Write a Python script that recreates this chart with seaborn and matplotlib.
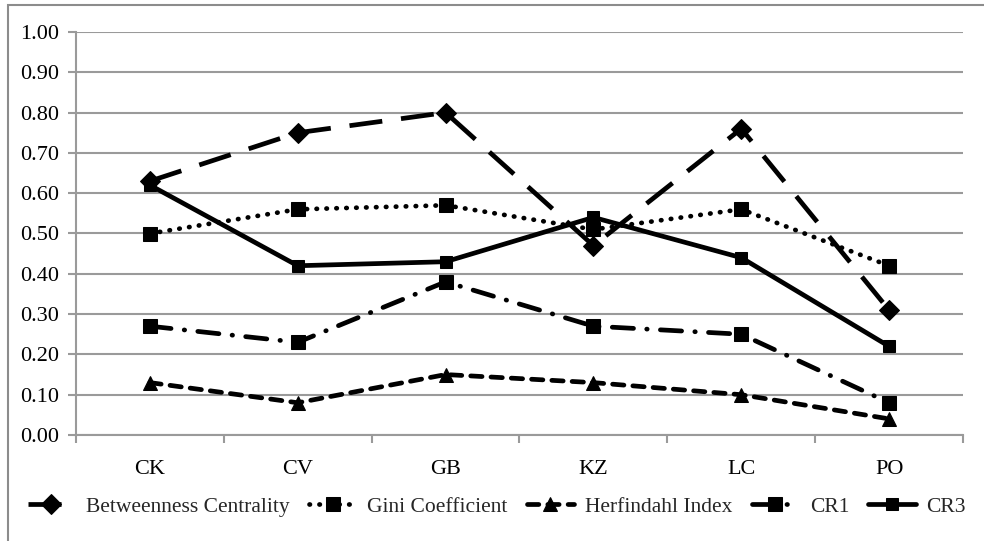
import matplotlib
matplotlib.use("Agg")
import matplotlib.pyplot as plt
import matplotlib.patches as mpatches
import seaborn as sns
import pandas as pd
from matplotlib.ticker import FixedLocator, MultipleLocator

# Country / category codes on the x axis
categories = ["CK", "CV", "GB", "KZ", "LC", "PO"]

# Concentration measures per category
betweenness = [0.63, 0.75, 0.80, 0.47, 0.76, 0.31]
gini = [0.50, 0.56, 0.57, 0.51, 0.56, 0.42]
herfindahl = [0.13, 0.08, 0.15, 0.13, 0.10, 0.04]
cr1 = [0.27, 0.23, 0.38, 0.27, 0.25, 0.08]
cr3 = [0.62, 0.42, 0.43, 0.54, 0.44, 0.22]

series_names = ["Betweenness Centrality", "Gini Coefficient", "Herfindahl Index", "CR1", "CR3"]
series_values = [betweenness, gini, herfindahl, cr1, cr3]

sns.set_theme(style="white")
plt.rcParams["font.family"] = ["Liberation Serif", "DejaVu Serif"]

fig = plt.figure(figsize=(9.84, 5.41), dpi=100)
ax = fig.add_axes([76 / 984, 1 - 435 / 541, (963 - 76) / 984, (435 - 32) / 541])

lw = 3.4
styles = [
    dict(marker="D", markersize=10, linestyle=(0, (7, 4)), dash_capstyle="butt"),
    dict(marker="s", markersize=10, linestyle=(0, (0.1, 2.0)), dash_capstyle="round"),
    dict(marker="^", markersize=10, linestyle=(0, (2.4, 1.9)), dash_capstyle="round"),
    dict(marker="s", markersize=10, linestyle=(0, (4.5, 2.8, 0.1, 2.8)), dash_capstyle="round"),
    dict(marker="s", markersize=9, linestyle="-", dash_capstyle="butt"),
]

handles = []
for name, vals, st in zip(series_names, series_values, styles):
    df = pd.DataFrame({"cat": categories, "val": vals})
    sns.lineplot(data=df, x="cat", y="val", ax=ax, color="black", linewidth=lw,
                 marker=st["marker"], markersize=st["markersize"],
                 markeredgecolor="black", markerfacecolor="black",
                 linestyle=st["linestyle"], dash_capstyle=st["dash_capstyle"],
                 sort=False, legend=False)
    line = ax.lines[-1]
    line.set_label(name)
    handles.append(line)

grid_color = "#9a9a9a"
ax.set_ylim(0, 1.0)
ax.set_xlim(-0.5, len(categories) - 0.5)
ax.yaxis.set_major_locator(MultipleLocator(0.1))
ax.set_yticklabels([f"{v:.2f}" for v in ax.get_yticks()])
ax.yaxis.grid(True, color=grid_color, linewidth=1.5)
ax.set_axisbelow(True)

ax.set_xticks(range(len(categories)))
ax.set_xticklabels(categories)
ax.xaxis.set_minor_locator(FixedLocator([i - 0.5 for i in range(len(categories) + 1)]))
ax.tick_params(axis="x", which="major", length=0, pad=18, labelsize=16, colors="black")
ax.tick_params(axis="x", which="minor", length=6, width=1.5, color=grid_color, direction="out")
ax.tick_params(axis="y", which="major", length=6, width=1.5, color=grid_color,
               direction="out", labelsize=16, labelcolor="black", pad=6)
ax.xaxis.set_tick_params(bottom=True, which="both")
ax.yaxis.set_tick_params(left=True)

for side in ["top", "right"]:
    ax.spines[side].set_visible(False)
for side in ["left", "bottom"]:
    ax.spines[side].set_color(grid_color)
    ax.spines[side].set_linewidth(1.5)

ax.set_xlabel("")
ax.set_ylabel("")

fig.legend(handles=handles, labels=series_names, loc="center",
           bbox_to_anchor=(0.505, 1 - 507 / 541), ncol=5, frameon=False,
           fontsize=15.5, handlelength=2.2, handletextpad=0.5, columnspacing=0.9,
           borderaxespad=0)

# Outer chart frame
frame = mpatches.Rectangle((8 / 984, -0.2), 1.2, 1.2 - 5 / 541, transform=fig.transFigure,
                           fill=False, edgecolor="#8c8c8c", linewidth=1.5, clip_on=False)
fig.patches.append(frame)

fig.savefig("out.png", dpi=100)
